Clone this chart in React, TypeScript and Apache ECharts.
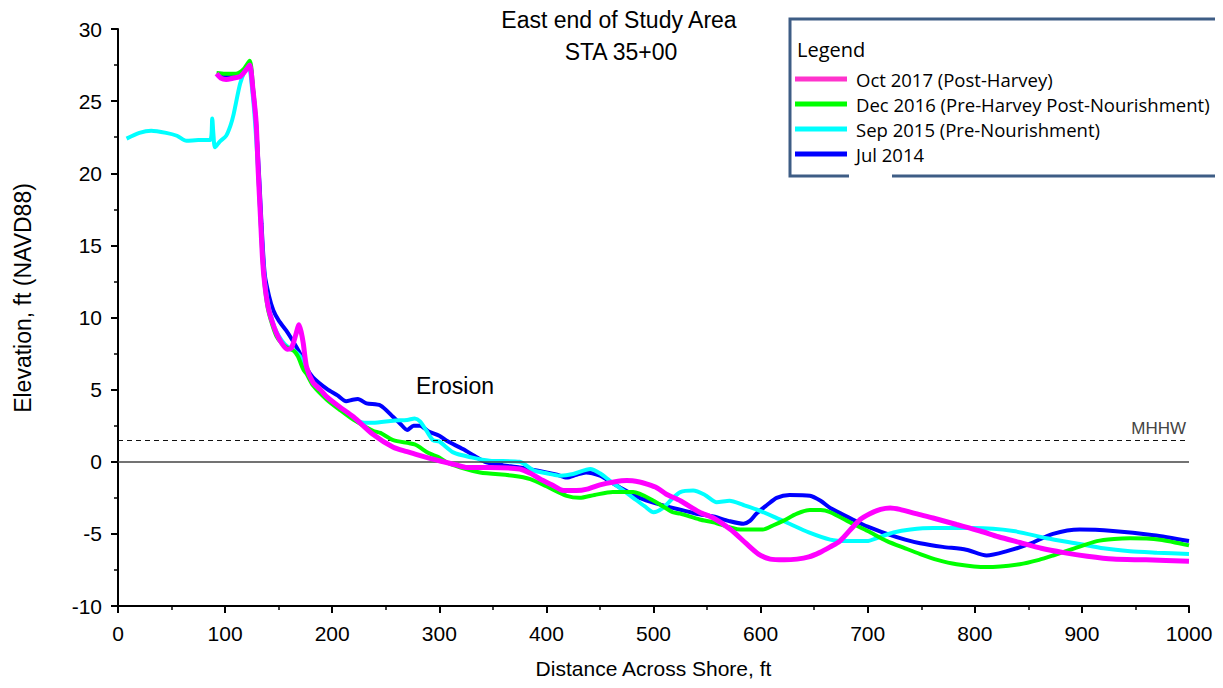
import React, { useEffect, useRef } from "react";
import * as echarts from "echarts";

// ---------- data ----------
const seriesNames = [
  "Oct 2017 (Post-Harvey)",
  "Dec 2016 (Pre-Harvey Post-Nourishment)",
  "Sep 2015 (Pre-Nourishment)",
  "Jul 2014",
];

const oct2017: [number, number][] = [
  [92, 26.9], [96, 26.6], [101, 26.5], [108, 26.6], [114, 26.7], [120, 27.2], [123, 27.5],
  [126, 25.8], [129, 23.5], [131, 20], [133, 17], [135, 14], [137, 12.3], [140, 10.8],
  [144, 9.7], [148, 8.9], [153, 8.2], [158, 7.8], [162, 7.9], [166, 8.8], [169, 9.5],
  [171, 9.0], [173, 8.2], [176, 6.6], [182, 5.5], [189, 5.0], [195, 4.5], [207, 3.8],
  [220, 3.1], [238, 1.9], [257, 1.0], [270, 0.7], [279, 0.5], [300, 0.07], [315, -0.2],
  [326, -0.4], [347, -0.4], [375, -0.5], [385, -0.8], [394, -1.2], [405, -1.6], [416, -2.0],
  [428, -2.0], [438, -1.9], [450, -1.6], [463, -1.4], [475, -1.3], [487, -1.4], [494, -1.55],
  [503, -1.8], [512, -2.25], [525, -2.7], [543, -3.5], [556, -3.9], [572, -4.7], [587, -5.7],
  [598, -6.4], [609, -6.75], [622, -6.8], [634, -6.75], [645, -6.6], [655, -6.3], [665, -5.9],
  [674, -5.5], [684, -4.7], [693, -4.0], [702, -3.6], [712, -3.3], [721, -3.2], [730, -3.3],
  [745, -3.6], [761, -3.9], [783, -4.35], [805, -4.8], [822, -5.2], [842, -5.6], [862, -6.0],
  [883, -6.3], [905, -6.55], [929, -6.75], [960, -6.8], [1000, -6.9],
];

const dec2016: [number, number][] = [
  [92, 26.95], [100, 26.9], [110, 26.9], [117, 27.2], [123, 27.8], [126, 26], [129, 23.5],
  [131, 20], [133, 17], [135, 14], [137, 12.2], [140, 10.6], [144, 9.5], [148, 8.7],
  [153, 8.2], [158, 7.9], [164, 7.7], [168, 7.3], [173, 6.4], [176, 6.1], [182, 5.3],
  [195, 4.3], [207, 3.6], [220, 2.9], [238, 2.15], [245, 2.0], [257, 1.5], [277, 1.2],
  [290, 0.6], [300, 0.3], [307, -0.05], [320, -0.4], [338, -0.74], [369, -0.97], [385, -1.2],
  [400, -1.7], [419, -2.36], [431, -2.5], [445, -2.3], [462, -2.1], [481, -2.1], [500, -2.7],
  [518, -3.5], [525, -3.6], [543, -4.0], [556, -4.2], [581, -4.7], [602, -4.7], [612, -4.4],
  [621, -4.1], [634, -3.6], [646, -3.35], [656, -3.35], [665, -3.5], [686, -4.3], [700, -4.8],
  [718, -5.5], [735, -6.0], [749, -6.4], [765, -6.8], [783, -7.1], [811, -7.3], [842, -7.1],
  [860, -6.8], [873, -6.5], [893, -6.0], [914, -5.5], [930, -5.35], [945, -5.3], [973, -5.4],
  [1000, -5.8],
];

const sep2015: [number, number][] = [
  [8, 22.4], [20, 22.8], [31, 22.95], [45, 22.8], [55, 22.6], [64, 22.25], [75, 22.3],
  [86, 22.3], [88, 23.8], [89, 22.8], [90.6, 21.8], [95, 22.2], [101, 22.6], [105, 23.3],
  [108, 24.1], [114, 26.2], [119, 27.2], [122, 27.5], [125, 26], [128, 23.5], [131, 20],
  [133, 17], [135, 14.5], [137, 12.6], [140, 11], [144, 9.8], [148, 9.0], [153, 8.4],
  [158, 8.0], [163, 7.8], [170, 7.3], [176, 6.3], [182, 5.4], [195, 4.4], [207, 3.7],
  [220, 3.0], [230, 2.7], [238, 2.7], [257, 2.85], [270, 2.9], [277, 3.0], [282, 2.8],
  [288, 2.15], [294, 1.5], [300, 1.4], [313, 0.65], [330, 0.3], [347, 0.07], [375, 0.0],
  [388, -0.6], [400, -0.8], [413, -0.97], [425, -0.85], [441, -0.5], [450, -0.8], [459, -1.3],
  [470, -1.9], [481, -2.5], [492, -3.1], [500, -3.5], [509, -3.2], [517, -2.6], [525, -2.1],
  [537, -2.0], [548, -2.3], [559, -2.8], [571, -2.7], [584, -3.0], [596, -3.3], [612, -3.8],
  [627, -4.3], [645, -4.9], [665, -5.4], [680, -5.5], [699, -5.5], [712, -5.2], [724, -4.9],
  [740, -4.7], [761, -4.6], [799, -4.6], [836, -4.8], [867, -5.3], [898, -5.7], [920, -6.0],
  [945, -6.2], [970, -6.3], [1000, -6.4],
];

const jul2014: [number, number][] = [
  [95, 26.8], [110, 26.7], [120, 27.3], [123, 27.6], [126, 25.8], [129, 23.3], [132, 19.5],
  [134, 16.5], [137, 13], [141, 11.5], [145, 10.5], [150, 9.8], [157, 9.1], [163, 8.4],
  [170, 7.5], [176, 6.5], [182, 5.85], [195, 5.05], [205, 4.6], [213, 4.2], [219, 4.3],
  [224, 4.35], [232, 4.05], [245, 3.9], [257, 3.1], [264, 2.6], [270, 2.2], [276, 2.5],
  [282, 2.5], [290, 2.1], [300, 1.8], [307, 1.45], [322, 0.88], [333, 0.4], [344, -0.05],
  [360, -0.25], [375, -0.4], [400, -0.74], [410, -0.9], [419, -1.1], [428, -0.9], [437, -0.74],
  [450, -0.97], [460, -1.4], [469, -1.8], [487, -2.5], [503, -2.9], [518, -3.2], [540, -3.6],
  [556, -3.8], [570, -4.1], [584, -4.3], [590, -4.1], [596, -3.6], [606, -3.0], [615, -2.5],
  [627, -2.3], [646, -2.35], [656, -2.7], [665, -3.2], [686, -4.0], [700, -4.5], [718, -5.0],
  [735, -5.4], [749, -5.65], [770, -5.9], [792, -6.1], [811, -6.5], [830, -6.2], [851, -5.7],
  [873, -5.0], [898, -4.7], [929, -4.8], [967, -5.1], [1000, -5.5],
];

const lineColors = ["#ff00ff", "#00ff00", "#00ffff", "#0000ff"];
const legendColors = ["#ff33cc", "#00ff00", "#00ffff", "#0000ff"];

const mhhwLevel = 1.5;
const zeroLevel = 0;
const xMin = 0, xMax = 1000, xStep = 100;
const yMin = -10, yMax = 30, yStep = 5;

const titleLines = ["East end of Study Area", "STA 35+00"];
const xName = "Distance Across Shore, ft";
const yName = "Elevation, ft (NAVD88)";

export default function App() {
  const ref = useRef<HTMLDivElement>(null);
  useEffect(() => {
    if (!ref.current) return;
    const chart = echarts.init(ref.current, undefined, { renderer: "svg" });
    const font = "Liberation Sans";
    const seriesData = [oct2017, dec2016, sep2015, jul2014];
    const order = [3, 2, 1, 0];
    const series: any[] = order.map((i) => ({
      name: seriesNames[i],
      type: "line",
      data: seriesData[i],
      showSymbol: false,
      symbol: "none",
      smooth: 0.25,
      color: lineColors[i],
      itemStyle: { color: lineColors[i] },
      lineStyle: { color: lineColors[i], width: i === 0 ? 5 : 4 },
      z: 3 + (3 - i),
    }));
    series[0].markLine = {
      silent: true,
      symbol: "none",
      animation: false,
      data: [
        {
          yAxis: zeroLevel,
          lineStyle: { color: "#444", width: 1.5, type: "solid" },
          label: { show: false },
        },
        {
          yAxis: mhhwLevel,
          lineStyle: { color: "#111", width: 1.2, type: [5, 4] },
          label: {
            show: true,
            position: "insideEndTop",
            formatter: "MHHW",
            color: "#444",
            fontSize: 17,
            fontFamily: font,
            distance: 3,
          },
        },
      ],
    };

    const fmt = (v: number) => String(v);

    chart.setOption({
      animation: false,
      grid: { left: 118, right: 34, top: 29, bottom: 82 },
      xAxis: {
        type: "value",
        min: xMin,
        max: xMax,
        interval: xStep,
        name: xName,
        nameLocation: "middle",
        nameGap: 52,
        nameTextStyle: { fontSize: 21, color: "#000", fontFamily: font },
        axisLine: { show: true, onZero: false, lineStyle: { color: "#000", width: 2 } },
        axisTick: { show: true, length: 7, lineStyle: { color: "#000", width: 2 } },
        minorTick: { show: true, splitNumber: 2, length: 4, lineStyle: { color: "#000", width: 1.5 } },
        splitLine: { show: false },
        axisLabel: { fontSize: 21, color: "#000", fontFamily: font, margin: 17, formatter: fmt },
      },
      yAxis: {
        type: "value",
        min: yMin,
        max: yMax,
        interval: yStep,
        axisLine: { show: true, onZero: false, lineStyle: { color: "#000", width: 2 } },
        axisTick: { show: true, length: 7, lineStyle: { color: "#000", width: 2 } },
        minorTick: { show: true, splitNumber: 2, length: 4, lineStyle: { color: "#000", width: 1.5 } },
        splitLine: { show: false },
        axisLabel: { fontSize: 21, color: "#000", fontFamily: font, margin: 16, formatter: fmt },
      },
      legend: {
        orient: "vertical",
        left: 795,
        top: 67,
        itemWidth: 52,
        itemHeight: 5,
        itemGap: 1,
        icon: "rect",
        padding: 0,
        data: seriesNames.map((n, i) => ({ name: n, itemStyle: { color: legendColors[i] } })),
        textStyle: {
          fontSize: 18.5,
          color: "#000",
          fontFamily: "Open Sans",
          lineHeight: 24,
          padding: [0, 0, 0, 4],
        },
        selectedMode: false,
      },
      graphic: [
        {
          type: "rect",
          z: 0,
          shape: { x: 790, y: 19, width: 429, height: 157 },
          style: { fill: "#fff", stroke: "#3e5d85", lineWidth: 3 },
        },
        {
          type: "rect",
          z: 1,
          shape: { x: 849, y: 173, width: 43, height: 6 },
          style: { fill: "#fff" },
        },
        {
          type: "text",
          z: 2,
          x: 797,
          y: 49,
          style: {
            text: "Legend",
            fontSize: 20,
            fontFamily: "Open Sans",
            fill: "#000",
            verticalAlign: "middle",
          },
        },
        {
          type: "text",
          x: 619,
          y: 20,
          style: {
            text: titleLines[0],
            fontSize: 23,
            fontFamily: font,
            fill: "#000",
            align: "center",
            verticalAlign: "middle",
          },
        },
        {
          type: "text",
          x: 621,
          y: 52,
          style: {
            text: titleLines[1],
            fontSize: 23,
            fontFamily: font,
            fill: "#000",
            align: "center",
            verticalAlign: "middle",
          },
        },
        {
          type: "text",
          x: 455,
          y: 386,
          style: {
            text: "Erosion",
            fontSize: 23,
            fontFamily: font,
            fill: "#000",
            align: "center",
            verticalAlign: "middle",
          },
        },
        {
          type: "text",
          x: 23,
          y: 298,
          rotation: Math.PI / 2,
          style: {
            text: yName,
            fontSize: 23,
            fontFamily: font,
            fill: "#000",
            align: "center",
            verticalAlign: "middle",
          },
        },
      ],
      series,
    });
    return () => chart.dispose();
  }, []);
  return <div ref={ref} style={{ width: 1223, height: 688, margin: -8 }} />;
}
